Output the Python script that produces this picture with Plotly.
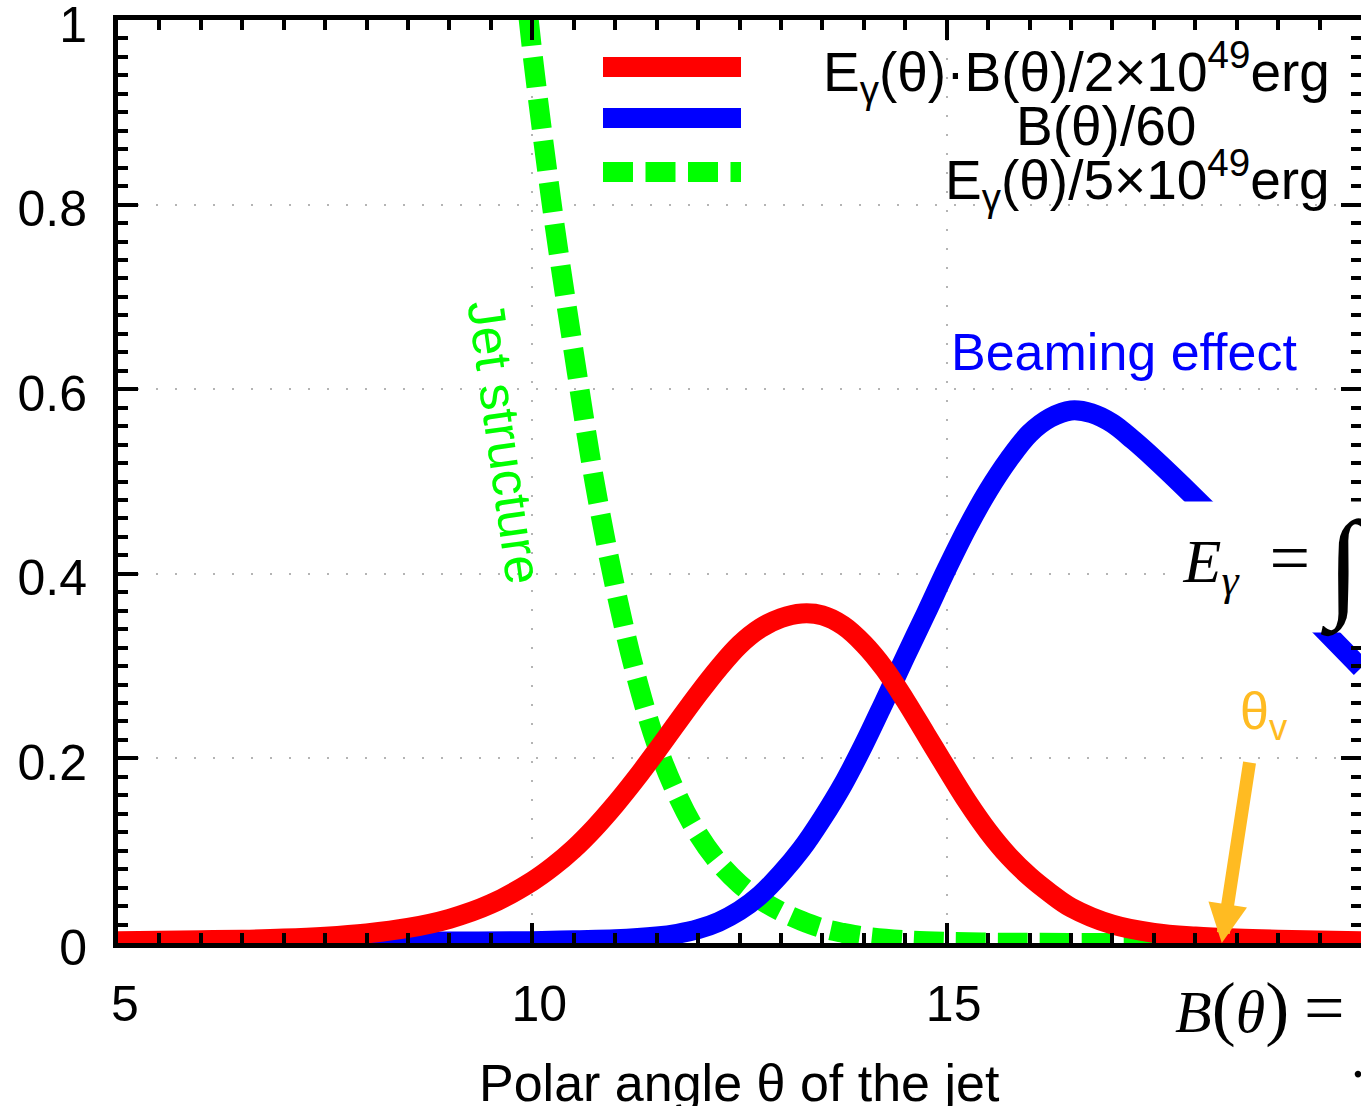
import plotly.graph_objects as go

# ---------------- data ----------------
theta_red = [5.0, 5.5, 6.0, 6.5, 7.0, 7.5, 8.0, 8.5, 9.0, 9.5, 10.0, 10.25, 10.5, 10.75,
             11.0, 11.25, 11.5, 11.75, 12.0, 12.25, 12.5, 12.75, 13.0, 13.25, 13.5,
             13.75, 14.0, 14.25, 14.5, 14.75, 15.0, 15.25, 15.5, 15.75, 16.0, 16.25,
             16.5, 17.0, 17.5, 18.0, 18.5, 19.0, 20.0]
eb_red = [0.002, 0.0025, 0.003, 0.0036, 0.0048, 0.0069, 0.0104, 0.0163, 0.0262, 0.0423,
          0.067, 0.0830, 0.1020, 0.1245, 0.150, 0.178, 0.208, 0.239, 0.2695, 0.298,
          0.323, 0.341, 0.352, 0.357, 0.355, 0.344, 0.324, 0.297, 0.263, 0.226,
          0.189, 0.153, 0.121, 0.094, 0.072, 0.054, 0.0385, 0.020, 0.011, 0.007,
          0.0048, 0.0035, 0.002]

theta_blue = [5.0, 6.0, 7.0, 8.0, 9.0, 10.0, 10.5, 11.0, 11.5, 11.75, 12.0, 12.25, 12.5,
              12.75, 13.0, 13.25, 13.5, 13.75, 14.0, 14.25, 14.5, 14.75, 15.0, 15.25,
              15.5, 15.75, 16.0, 16.25, 16.5, 16.75, 17.0, 17.25, 17.5, 18.0, 18.5,
              19.0, 19.5, 20.0]
b_blue = [0.0, 0.0, 0.0005, 0.001, 0.0015, 0.002, 0.003, 0.004, 0.007, 0.010, 0.015,
          0.023, 0.035, 0.052, 0.075, 0.102, 0.135, 0.172, 0.215, 0.262, 0.31, 0.357,
          0.405, 0.45, 0.49, 0.524, 0.552, 0.569, 0.577, 0.574, 0.563, 0.545, 0.525,
          0.482, 0.437, 0.39, 0.344, 0.298]

theta_green = [9.9, 10.0, 10.25, 10.5, 10.75, 11.0, 11.25, 11.5, 11.75, 12.0, 12.25,
               12.5, 12.75, 13.0, 13.25, 13.5, 13.75, 14.0, 14.5, 15.0, 15.5, 16.0,
               17.0, 18.0, 19.0, 20.0]
e_green = [1.05, 0.965, 0.79, 0.64, 0.5, 0.385, 0.29, 0.215, 0.16, 0.118, 0.087, 0.064,
           0.047, 0.034, 0.024, 0.016, 0.011, 0.007, 0.003, 0.0012, 0.0005, 0.0002,
           0.0, 0.0, 0.0, 0.0]

legend_labels = ["E<sub>γ</sub>(θ)·B(θ)/2×10<sup>49</sup>erg",
                 "B(θ)/60",
                 "E<sub>γ</sub>(θ)/5×10<sup>49</sup>erg"]
series_colors = ["#ff0000", "#0000ff", "#00ff00"]
x_title = "Polar angle θ of the jet"

x_tick_vals = [5, 10, 15, 20]
y_tick_vals = [0, 0.2, 0.4, 0.6, 0.8, 1]
y_tick_text = ["0", "0.2", "0.4", "0.6", "0.8", "1"]

# ---------------- layout geometry ----------------
W, H = 1361, 1106
ML, MR, MT, MB = 118, 0, 20, 163
PW, PH = W - ML - MR, H - MT - MB
SANS = "Liberation Sans, Arial, Helvetica, sans-serif"
SERIF = "Liberation Serif, DejaVu Serif, serif"
ORANGE = "#ffbb22"


def px_x(px):
    return (px - ML) / PW


def px_y(py):
    return (MT + PH - py) / PH


fig = go.Figure()
fig.add_trace(go.Scatter(x=theta_green, y=e_green, mode="lines", showlegend=False,
                         line=dict(color=series_colors[2], width=20, dash="30px,12px",
                                   shape="spline")))
fig.add_trace(go.Scatter(x=theta_blue, y=b_blue, mode="lines", showlegend=False,
                         line=dict(color=series_colors[1], width=20, shape="spline")))
fig.add_trace(go.Scatter(x=theta_red, y=eb_red, mode="lines", showlegend=False,
                         yaxis="y2",
                         line=dict(color=series_colors[0], width=20, shape="spline")))

grid_kw = dict(showgrid=True, gridcolor="#b4b4b4", gridwidth=1.5, griddash="2px,17px")
tick_kw = dict(ticks="inside", ticklen=20, tickwidth=4, tickcolor="black")

fig.update_layout(
    width=W, height=H,
    margin=dict(l=ML, r=MR, t=MT, b=MB, autoexpand=False),
    paper_bgcolor="white", plot_bgcolor="white",
    font=dict(family=SANS, color="black"),
    showlegend=False,
    xaxis=dict(range=[5, 20], tickvals=x_tick_vals, ticktext=[str(v) for v in x_tick_vals],
               showline=True, linecolor="black", linewidth=5, mirror="ticks",
               zeroline=False, tickfont=dict(size=50, family=SANS),
               ticklabelshift=7, ticklabelstandoff=13, ticklabeloverflow="allow",
               minor=dict(dtick=0.5, tick0=5, ticks="inside", ticklen=10, tickwidth=4,
                          tickcolor="black", showgrid=False),
               **grid_kw, **tick_kw),
    yaxis=dict(range=[0, 1], tickvals=y_tick_vals, ticktext=y_tick_text,
               showline=True, linecolor="black", linewidth=5, zeroline=False,
               tickfont=dict(size=50, family=SANS),
               ticklabelshift=4, ticklabelstandoff=16, ticklabeloverflow="allow",
               minor=dict(dtick=0.02, tick0=0, ticks="inside", ticklen=10, tickwidth=4,
                          tickcolor="black", showgrid=False),
               **grid_kw, **tick_kw),
    yaxis2=dict(range=[0, 1], overlaying="y", side="right", matches="y",
                tickvals=y_tick_vals, showticklabels=False, showline=False,
                showgrid=False, zeroline=False,
                minor=dict(dtick=0.02, tick0=0, ticks="inside", ticklen=10, tickwidth=4,
                           tickcolor="black", showgrid=False),
                **tick_kw),
)

# x-axis title (placed as text so it can sit partly below the page edge, as in the reference)
fig.add_annotation(xref="paper", yref="paper", x=0.5, y=px_y(1052),
                   xanchor="center", yanchor="top", showarrow=False,
                   text=x_title, font=dict(size=52, family=SANS, color="black"))

# legend keys (shapes) and labels
key_y = [67, 118, 172]
text_y = [72, 126, 180]
text_right = [1332, 1198, 1332]
for i in range(3):
    fig.add_shape(type="line", xref="paper", yref="paper",
                  x0=px_x(603), x1=px_x(741), y0=px_y(key_y[i]), y1=px_y(key_y[i]),
                  line=dict(color=series_colors[i], width=20,
                            dash="30px,12.5px" if i == 2 else "solid"))
    fig.add_annotation(xref="paper", yref="paper", x=px_x(text_right[i]), y=px_y(text_y[i]),
                       xanchor="right", yanchor="middle", showarrow=False,
                       text=legend_labels[i], font=dict(size=55, family=SANS, color="black"))

# curve labels
fig.add_annotation(xref="paper", yref="paper", x=px_x(505), y=px_y(442),
                   xanchor="center", yanchor="middle",
                   text="Jet structure", textangle=82, showarrow=False,
                   font=dict(size=52, family=SANS, color="#00ff00"))
fig.add_annotation(xref="paper", yref="paper", x=px_x(1124), y=px_y(352),
                   xanchor="center", yanchor="middle",
                   text="Beaming effect", showarrow=False,
                   font=dict(size=52, family=SANS, color="#0000ff"))
fig.add_annotation(xref="paper", yref="paper", x=px_x(1264), y=px_y(715),
                   xanchor="center", yanchor="middle",
                   text="θ<sub>v</sub>", showarrow=False,
                   font=dict(size=52, family=SANS, color=ORANGE))
# viewing-angle arrow
fig.add_annotation(x=18.32, y=0, xref="x", yref="y", ax=28, ay=-182, text="",
                   showarrow=True, arrowhead=2, arrowsize=0.6, arrowwidth=13,
                   arrowcolor=ORANGE, standoff=0)

# cropped formulas: white boxes, then the text on top
fig.add_annotation(xref="paper", yref="paper", x=px_x(1172), y=px_y(567),
                   xanchor="left", yanchor="middle", width=260, height=130,
                   bgcolor="white", borderpad=0, showarrow=False, text=" ")
fig.add_annotation(xref="paper", yref="paper", x=px_x(1166), y=px_y(561),
                   xanchor="left", yanchor="middle", align="left", showarrow=False,
                   text="&nbsp;<i>E</i><sub><i>γ</i></sub>&nbsp;&nbsp;"
                        "<span style='font-size:72px'>=</span>",
                   font=dict(size=62, family=SERIF, color="black"))
fig.add_annotation(xref="paper", yref="paper", x=px_x(1318), y=px_y(567),
                   xanchor="left", yanchor="middle", align="left", showarrow=False,
                   text="∫", font=dict(size=120, family=SERIF, color="black"))
fig.add_annotation(xref="paper", yref="paper", x=px_x(1160), y=px_y(1015),
                   xanchor="left", yanchor="middle", width=260, height=70,
                   bgcolor="white", borderpad=0, showarrow=False, text=" ")
fig.add_annotation(xref="paper", yref="paper", x=px_x(1158), y=px_y(1008),
                   xanchor="left", yanchor="middle", align="left", showarrow=False,
                   text="&nbsp;<i>B</i><span style='font-size:72px'>(</span><i>θ</i>"
                        "<span style='font-size:72px'>)</span>&nbsp;"
                        "<span style='font-size:72px'>=</span>",
                   font=dict(size=60, family=SERIF, color="black"))
fig.add_annotation(xref="paper", yref="paper", x=px_x(1358), y=px_y(1058),
                   xanchor="center", yanchor="middle", showarrow=False,
                   text=".", font=dict(size=56, family=SERIF, color="black"))

fig.write_html("out.html")
